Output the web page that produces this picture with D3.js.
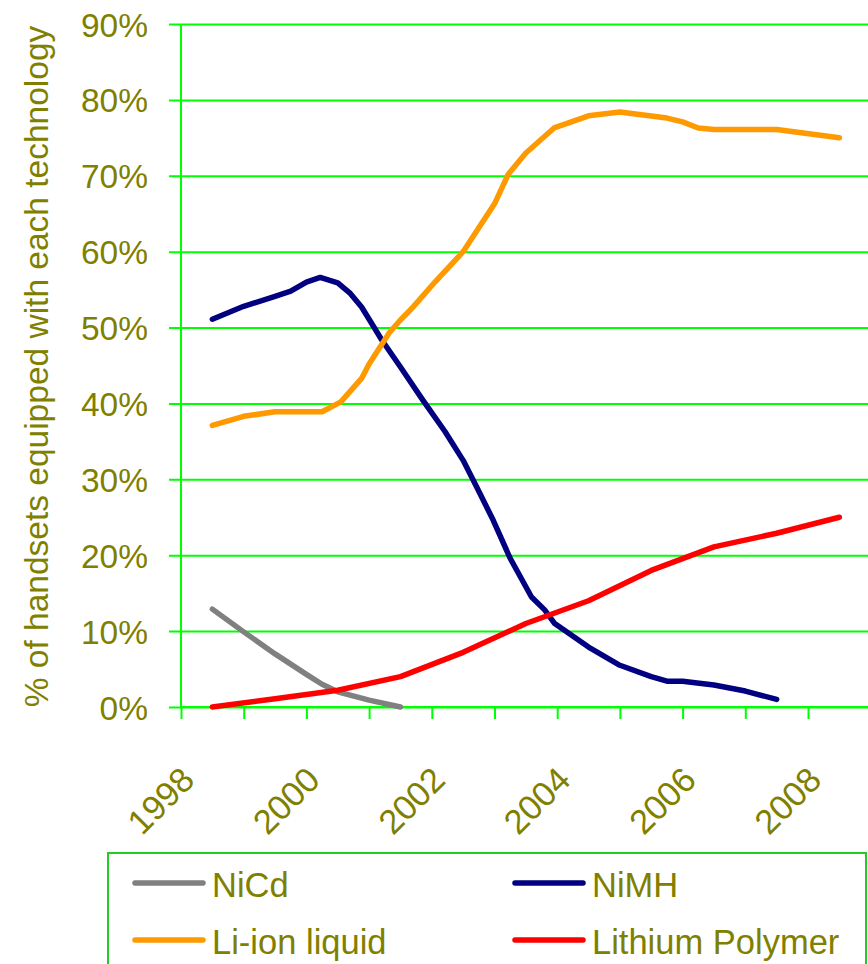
<!DOCTYPE html>
<html>
<head>
<meta charset="utf-8">
<script src="https://cdn.jsdelivr.net/npm/d3@7"></script>
<style>
  html, body { margin: 0; padding: 0; background: #fff; }
  svg { display: block; }
  text { font-family: "Liberation Sans", Arial, sans-serif; fill: #808000; }
</style>
</head>
<body>
<svg id="chart" width="868" height="964"></svg>
<script>
// ---------- data ----------
const seriesNames = ["NiCd", "NiMH", "Li-ion liquid", "Lithium Polymer"];
const seriesColors = ["#808080", "#000080", "#FF9900", "#FF0000"];

const nicdYears  = [1998, 1998.5, 1999, 1999.5, 1999.75, 2000, 2000.5, 2001];
const nicdValues = [12.9, 9.9, 7.0, 4.3, 3.0, 2.0, 0.9, 0.0];

const nimhYears  = [1998, 1998.5, 1999, 1999.25, 1999.5, 1999.72, 2000, 2000.2, 2000.38, 2000.5, 2000.7, 2001, 2001.36, 2001.71, 2002, 2002.24, 2002.48, 2002.75, 2003.09, 2003.3, 2003.46, 2004, 2004.5, 2005, 2005.25, 2005.5, 2006, 2006.5, 2007];
const nimhValues = [51.1, 52.8, 54.1, 54.8, 56.0, 56.6, 55.9, 54.5, 52.7, 51.1, 48.4, 44.8, 40.4, 36.3, 32.5, 28.6, 24.6, 19.6, 14.5, 12.8, 11.0, 7.9, 5.5, 4.0, 3.4, 3.4, 2.9, 2.1, 1.0];

const lionYears  = [1998, 1998.5, 1999, 1999.75, 2000.05, 2000.38, 2000.5, 2000.83, 2001, 2001.2, 2001.55, 2002, 2002.5, 2002.72, 2003, 2003.45, 2004, 2004.5, 2005.25, 2005.5, 2005.75, 2006, 2007, 2008];
const lionValues = [37.1, 38.3, 38.9, 38.9, 40.2, 43.3, 45.2, 49.4, 51.0, 52.7, 56.0, 60.0, 66.3, 70.2, 73.0, 76.3, 77.9, 78.4, 77.6, 77.1, 76.3, 76.1, 76.1, 75.0];

const lipoYears  = [1998, 1999, 2000, 2001, 2002, 2003, 2004, 2005, 2006, 2007, 2008];
const lipoValues = [0.0, 1.1, 2.2, 4.0, 7.2, 11.0, 14.0, 18.0, 21.1, 22.9, 25.0];

const yTicks = [0, 10, 20, 30, 40, 50, 60, 70, 80, 90];
const xLabelYears = [1998, 2000, 2002, 2004, 2006, 2008];
const xTickBounds = [1997.5, 1998.5, 1999.5, 2000.5, 2001.5, 2002.5, 2003.5, 2004.5, 2005.5, 2006.5, 2007.5];
const yTitle = "% of handsets equipped with each technology";

// ---------- layout ----------
const svg = d3.select("#chart");
const plotLeft = 181, plotTop = 24, plotBottom = 707, plotRight = 868;
const textColor = "#808000";
const gridColor = "#00FF00";

const x = d3.scaleLinear().domain([1997.5, 2008.5]).range([plotLeft, plotLeft + 11 * 62.7]);
const y = d3.scaleLinear().domain([0, 90]).range([plotBottom, plotTop]);

// horizontal gridlines (extend 12px left of axis as ticks)
const gy = svg.append("g").attr("transform", `translate(${plotLeft},0)`)
  .call(d3.axisLeft(y).tickValues(yTicks).tickSize(12).tickPadding(21)
        .tickFormat(d => d + "%"));
gy.select(".domain").remove();
gy.selectAll(".tick line").attr("x1", plotRight - plotLeft).attr("x2", -12)
  .attr("stroke", gridColor).attr("stroke-width", 2);
gy.selectAll(".tick text").attr("font-size", 33.5).attr("fill", textColor)
  .attr("font-family", "Liberation Sans, Arial, sans-serif").attr("dy", "0.36em");

// vertical axis line
svg.append("line").attr("x1", plotLeft).attr("x2", plotLeft).attr("y1", plotTop).attr("y2", plotBottom)
  .attr("stroke", gridColor).attr("stroke-width", 2);

// x axis ticks (category boundaries)
const gx = svg.append("g").attr("transform", `translate(0,${plotBottom})`)
  .call(d3.axisBottom(x).tickValues(xTickBounds).tickSize(12).tickFormat(""));
gx.select(".domain").attr("d", `M${plotLeft},0H${plotRight}`).attr("stroke", gridColor).attr("stroke-width", 2);
gx.selectAll(".tick line").attr("stroke", gridColor).attr("stroke-width", 2);

// x labels (rotated)
const gl = svg.append("g").attr("transform", `translate(0,${plotBottom})`)
  .call(d3.axisBottom(x).tickValues(xLabelYears).tickSize(0).tickFormat(d3.format("d")));
gl.select(".domain").remove();
gl.selectAll(".tick text")
  .attr("font-size", 34.5).attr("fill", textColor)
  .attr("font-family", "Liberation Sans, Arial, sans-serif")
  .attr("text-anchor", "end").attr("dy", 0).attr("y", 0)
  .attr("transform", "translate(-16.5,75) rotate(-45)");

// y axis title
svg.append("text")
  .attr("transform", `translate(48,${(plotTop + plotBottom) / 2 + 1}) rotate(-90)`)
  .attr("text-anchor", "middle").attr("font-size", 33.5).attr("fill", textColor)
  .text(yTitle);

// ---------- lines ----------
const series = [
  { name: seriesNames[0], color: seriesColors[0], years: nicdYears, values: nicdValues },
  { name: seriesNames[1], color: seriesColors[1], years: nimhYears, values: nimhValues },
  { name: seriesNames[2], color: seriesColors[2], years: lionYears, values: lionValues },
  { name: seriesNames[3], color: seriesColors[3], years: lipoYears, values: lipoValues }
];
const line = d3.line().x(d => x(d[0])).y(d => y(d[1])).curve(d3.curveLinear);
svg.append("g").selectAll("path").data(series).join("path")
  .attr("d", s => line(s.years.map((yr, i) => [yr, s.values[i]])))
  .attr("fill", "none").attr("stroke", s => s.color).attr("stroke-width", 5.5)
  .attr("stroke-linejoin", "round").attr("stroke-linecap", "round");

// ---------- legend ----------
svg.append("rect").attr("x", 108).attr("y", 853).attr("width", 758).attr("height", 130)
  .attr("fill", "none").attr("stroke", "#22cc22").attr("stroke-width", 2);
const legPos = [[135, 883], [515, 883], [135, 940], [515, 940]];
const lg = svg.append("g").selectAll("g").data(series).join("g")
  .attr("transform", (s, i) => `translate(${legPos[i][0]},${legPos[i][1]})`);
lg.append("line").attr("x1", 0).attr("x2", 68).attr("y1", 0).attr("y2", 0)
  .attr("stroke", s => s.color).attr("stroke-width", 5.5).attr("stroke-linecap", "round");
lg.append("text").attr("x", 77).attr("y", 14).attr("font-size", 34.5).attr("fill", textColor)
  .text(s => s.name);
</script>
</body>
</html>
